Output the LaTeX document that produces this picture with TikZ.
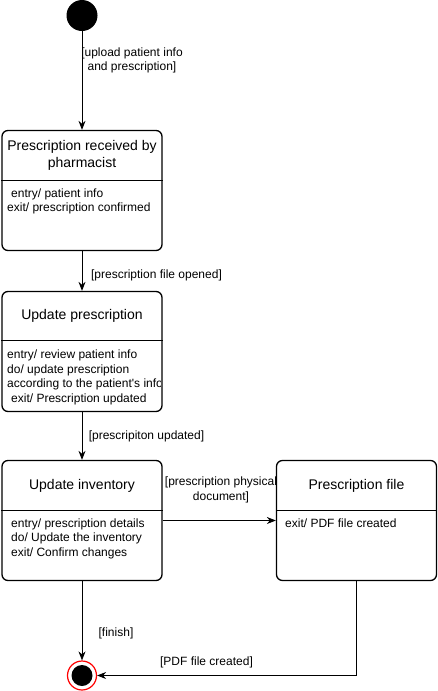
\documentclass[tikz,border=0pt]{standalone}
\usepackage{fontspec}
\setmainfont{Liberation Sans}
\usetikzlibrary{arrows.meta}
\begin{document}
\begin{tikzpicture}[x=1pt,y=-1pt,
 statebox/.style={draw, line width=1.3pt, rounded corners=6pt, fill=white, inner sep=0pt, minimum width=160pt, minimum height=120pt},
 divider/.style={line width=1pt},
 ttl/.style={font=\fontsize{14}{17}\selectfont, align=center, inner sep=0pt},
 body/.style={font=\fontsize{12}{14.5}\selectfont, align=left, anchor=north west, inner sep=0pt},
 lbl/.style={font=\fontsize{12}{14.5}\selectfont, align=center, inner sep=0pt},
 conn/.style={line width=0.9pt, -{Stealth[length=9pt,width=7pt]}}]
\useasboundingbox (0,0) rectangle (437,691);
% labels first (box of the right state covers the clipped one)
\node[lbl] (l1) at (132,60.5) {[upload patient info\\and prescription]};
\node[lbl] (l2) at (156.5,275) {[prescription file opened]};
\node[lbl] (l3) at (146.5,436) {[prescripiton updated]};
\node[lbl] (l4) at (221,490) {[prescription physical\\document]};
\node[lbl] (l5) at (116,633) {[finish]};
\node[lbl] (l6) at (206.5,662) {[PDF file created]};
% states
\node[circle, fill=black, minimum size=31pt, inner sep=0pt] (start) at (82,15.5) {};
\node[statebox] (b1) at (82,190.5) {};
\node[statebox] (b2) at (82,351.5) {};
\node[statebox] (b3) at (82,520.5) {};
\node[statebox] (b4) at (356.5,520.5) {};
\node[circle, draw=red, line width=1.2pt, fill=white, minimum size=29pt, inner sep=0pt] (end) at (82,675.5) {};
\node[circle, fill=black, minimum size=21pt, inner sep=0pt] (endc) at (end) {};
% dividers
\draw[divider] (b1.west |- 0,180.5) -- (b1.east |- 0,180.5);
\draw[divider] (b2.west |- 0,340.5) -- (b2.east |- 0,340.5);
\draw[divider] (b3.west |- 0,510.5) -- (b3.east |- 0,510.5);
\draw[divider] (b4.west |- 0,510.5) -- (b4.east |- 0,510.5);
% titles
\node[ttl] (t1) at (82,155.5) {Prescription received by\\pharmacist};
\node[ttl] (t2) at (82,316) {Update prescription};
\node[ttl] (t3) at (82,486) {Update inventory};
\node[ttl] (t4) at (356.5,486) {Prescription file};
% bodies
\node[body] (d1) at (7,188.5) {\hspace*{4pt}entry/ patient info\\exit/ prescription confirmed};
\begin{scope}
\clip (2,341) rectangle (160.5,412);
\node[body] (d2) at (7,350) {entry/ review patient info\\do/ update prescription\\according to the patient\textquotesingle s info\\\hspace*{4pt}exit/ Prescription updated};
\end{scope}
\node[body] (d3) at (11,518.5) {entry/ prescription details\\do/ Update the inventory\\exit/ Confirm changes};
\node[body] (d4) at (285,518.5) {exit/ PDF file created};
% connectors
\draw[conn] (start.south) -- (b1.north);
\draw[conn] (b1.south) -- (b2.north);
\draw[conn] (b2.south) -- (b3.north);
\draw[conn] (b3.east) -- (b4.west);
\draw[conn] (b3.south) -- (end.north);
\draw[conn] (b4.south) |- (end.east);
\end{tikzpicture}
\end{document}
